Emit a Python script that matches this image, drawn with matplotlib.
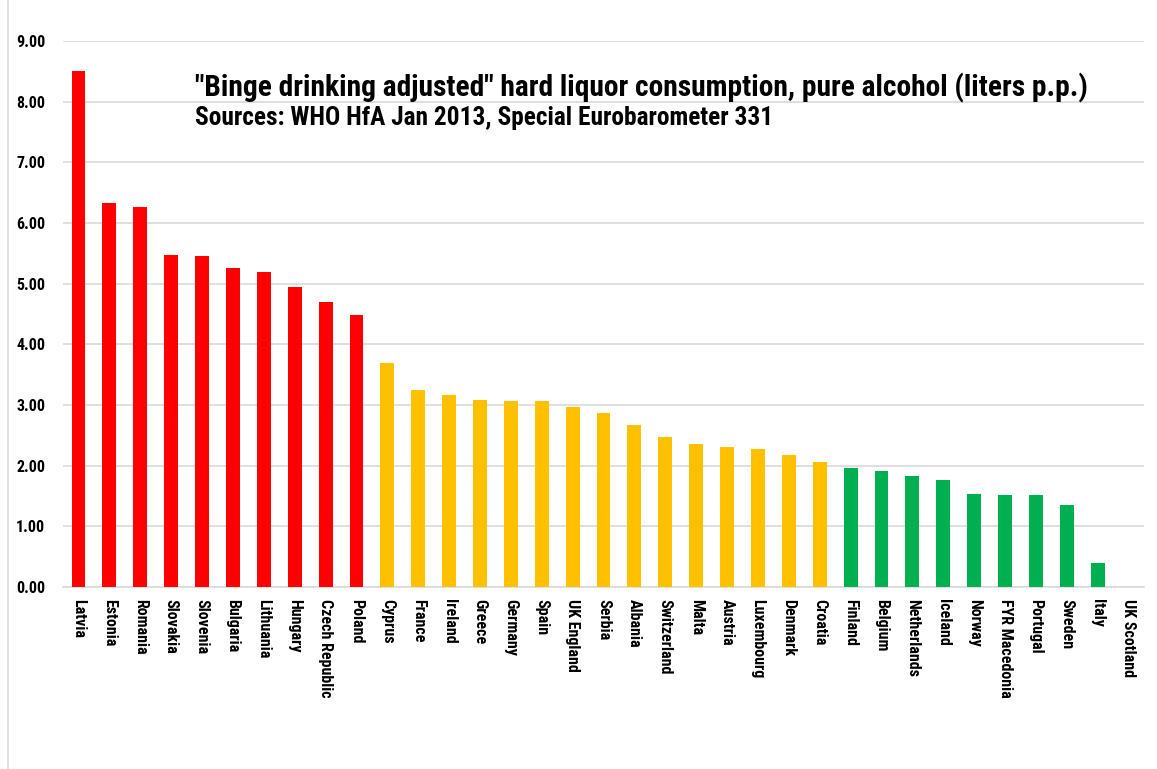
import matplotlib
matplotlib.use("Agg")
import matplotlib.pyplot as plt
from matplotlib import font_manager
from matplotlib.patches import Rectangle

countries = ["Latvia", "Estonia", "Romania", "Slovakia", "Slovenia", "Bulgaria",
             "Lithuania", "Hungary", "Czech Republic", "Poland", "Cyprus", "France",
             "Ireland", "Greece", "Germany", "Spain", "UK England", "Serbia", "Albania",
             "Switzerland", "Malta", "Austria", "Luxembourg", "Denmark", "Croatia",
             "Finland", "Belgium", "Netherlands", "Iceland", "Norway", "FYR Macedonia",
             "Portugal", "Sweden", "Italy", "UK Scotland"]
liters = [8.50, 6.33, 6.26, 5.47, 5.45, 5.26, 5.19, 4.95, 4.70, 4.48, 3.69, 3.24,
          3.16, 3.09, 3.07, 3.07, 2.96, 2.86, 2.67, 2.47, 2.36, 2.31, 2.27, 2.17, 2.06,
          1.96, 1.91, 1.83, 1.76, 1.54, 1.52, 1.52, 1.35, 0.40, 0.0]
groups = ["high"] * 10 + ["mid"] * 15 + ["low"] * 10
group_colors = {"high": "#FF0000", "mid": "#FFC000", "low": "#00B050"}

title = '"Binge drinking adjusted" hard liquor consumption, pure alcohol (liters p.p.)'
subtitle = "Sources: WHO HfA Jan 2013, Special Eurobarometer 331"

# narrow font if the machine has one, else a plain sans
installed = {f.name for f in font_manager.fontManager.ttflist}
font = "DejaVu Sans"
for name in ["Liberation Sans Narrow", "Roboto Condensed", "Open Sans Condensed",
             "Liberation Sans"]:
    if name in installed:
        font = name
        break

fig = plt.figure(figsize=(11.57, 7.69), dpi=100)
ax = fig.add_axes([0.0545, 0.2367, 0.9343, 0.71])

x = range(len(countries))
ax.bar(x, liters, width=0.45, color=[group_colors[g] for g in groups], zorder=3)

ax.set_xlim(-0.5, len(countries) - 0.5)
ax.set_ylim(0, 9)
ax.set_yticks(range(0, 10))
ax.set_yticklabels([f"{v:.2f}" for v in range(0, 10)], fontsize=11.5,
                   fontweight="bold", family=font)
ax.set_xticks(list(x))
ax.set_xticklabels(countries, rotation=270, fontsize=11.5, fontweight="bold",
                   family=font, va="top", ha="center")
ax.tick_params(axis="both", length=0)
ax.tick_params(axis="y", pad=13)
ax.tick_params(axis="x", pad=9)
ax.grid(axis="y", color="#D9D9D9", linewidth=1.2, zorder=0)
for s in ["top", "right", "left"]:
    ax.spines[s].set_visible(False)
ax.spines["bottom"].set_color("#D9D9D9")
ax.spines["bottom"].set_linewidth(1.2)

t1 = fig.text(0.1685, 0.886, title, fontsize=20, fontweight="bold", family=font,
              va="center", ha="left")
t2 = fig.text(0.1685, 0.846, subtitle, fontsize=15, fontweight="bold", family=font,
              va="center", ha="left")

# fit the two header lines to the widths seen in the original
renderer = fig.canvas.get_renderer()
for t, target in [(t1, 892), (t2, 580)]:
    w = t.get_window_extent(renderer).width
    t.set_fontsize(t.get_fontsize() * target / w)

fig.patches.append(Rectangle((0.0065, -0.01), 1.1, 1.02, transform=fig.transFigure,
                             fill=False, edgecolor="#D9D9D9", linewidth=1.2))

fig.savefig("out.png", dpi=100)
